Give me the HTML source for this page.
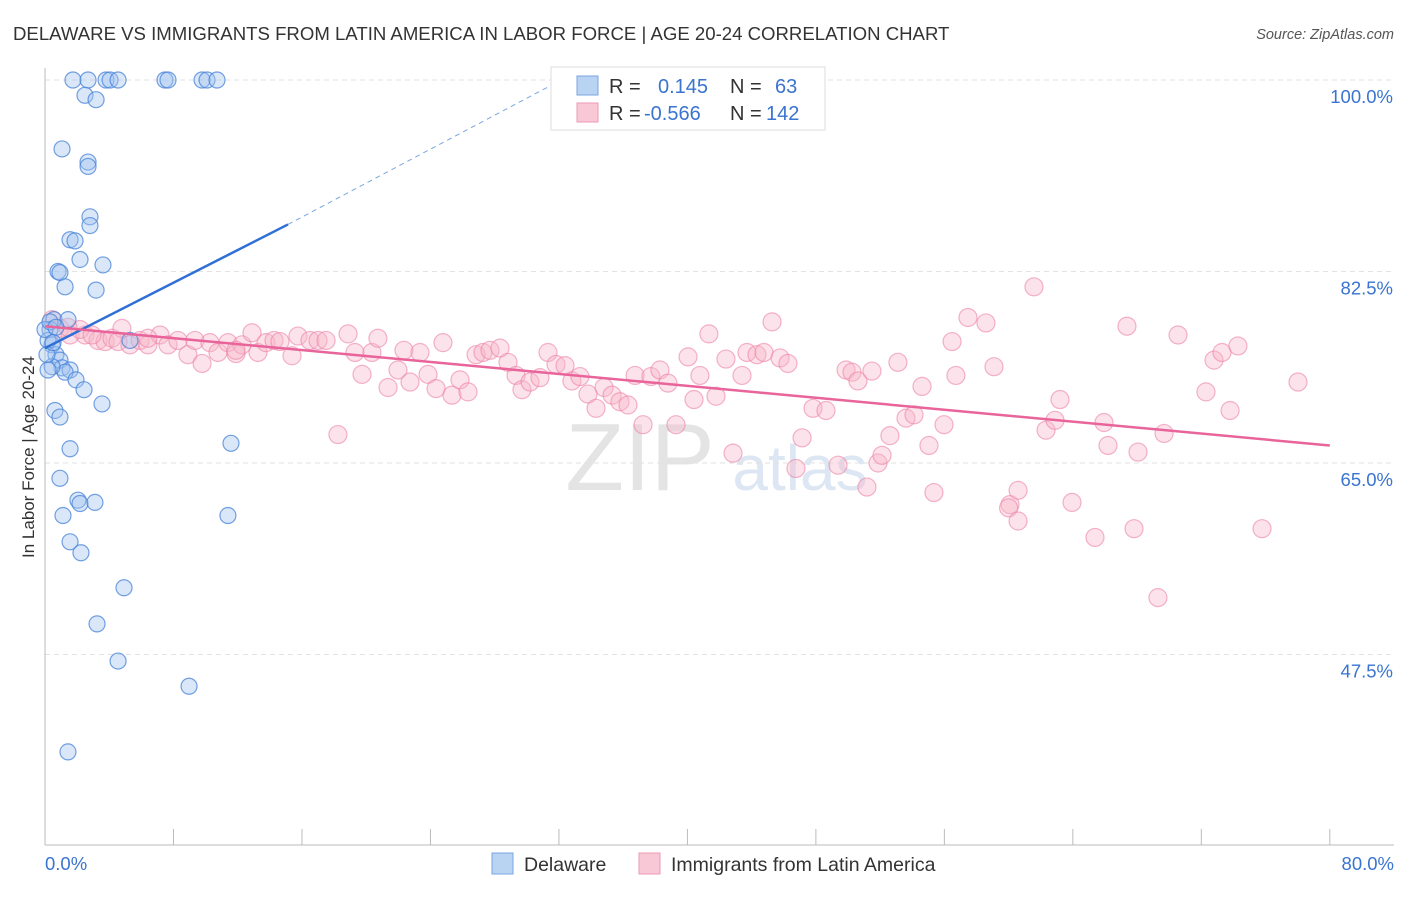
<!DOCTYPE html>
<html><head><meta charset="utf-8"><style>
body{margin:0;background:#fff;font-family:"Liberation Sans",sans-serif;}
svg text{font-family:"Liberation Sans",sans-serif;}
</style></head><body>
<svg id="chart" width="1406" height="892">
<text x="13" y="40" font-size="18.6" fill="#333">DELAWARE VS IMMIGRANTS FROM LATIN AMERICA IN LABOR FORCE | AGE 20-24 CORRELATION CHART</text>
<text x="1394" y="39" font-size="14.5" fill="#555" text-anchor="end" font-style="italic">Source: ZipAtlas.com</text>
<text x="640" y="490" font-size="96" fill="#e4e4e4" font-family="Liberation Serif" text-anchor="middle">ZIP</text>
<text x="800" y="490" font-size="64" fill="#dde6f3" text-anchor="middle">atlas</text>
<g id="grid"></g><g id="axes"></g><g id="pts"></g><g id="lines"></g>
<text transform="translate(34,457) rotate(-90)" font-size="17" fill="#333" text-anchor="middle">In Labor Force | Age 20-24</text>
<g>
<rect x="551" y="67" width="274" height="63" fill="#fff" stroke="#ddd"/>
<rect x="577" y="76" width="21" height="19" fill="#b9d3f3" stroke="#7aa6e0"/>
<rect x="577" y="103" width="21" height="19" fill="#f9c8d6" stroke="#ef9ab5"/>
<text x="609" y="93" font-size="20" fill="#333">R =</text><text x="658" y="93" font-size="20" fill="#3a74d0">0.145</text>
<text x="730" y="93" font-size="20" fill="#333">N =</text><text x="775" y="93" font-size="20" fill="#3a74d0">63</text>
<text x="609" y="120" font-size="20" fill="#333">R =</text><text x="644" y="120" font-size="20" fill="#3a74d0">-0.566</text>
<text x="730" y="120" font-size="20" fill="#333">N =</text><text x="766" y="120" font-size="20" fill="#3a74d0">142</text>
</g>
<g>
<rect x="492" y="853" width="21" height="21" fill="#b9d3f3" stroke="#7aa6e0"/>
<text x="524" y="871" font-size="19.5" fill="#333">Delaware</text>
<rect x="639" y="853" width="21" height="21" fill="#f9c8d6" stroke="#ef9ab5"/>
<text x="671" y="871" font-size="19.5" fill="#333">Immigrants from Latin America</text>
</g>
</svg>
<script>
const blueX=[1.74,2.68,3.80,4.05,4.55,7.47,7.66,9.78,10.09,10.71,2.49,3.18,1.06,2.68,2.68,2.80,2.80,1.56,1.87,2.18,3.61,0.81,0.93,1.25,3.18,0.56,1.43,0.31,0.44,0.68,0.93,1.06,1.56,1.25,1.93,2.43,0.44,3.55,0.62,0.93,1.56,11.58,0.93,2.05,2.18,3.11,1.12,11.39,1.56,2.24,4.92,3.24,4.55,8.97,1.43,5.29,0.19,0,0.31,0.12,0.68,0.5,0.19];
const blueY=[100,100,100,100,100,100,100,100,100,100,98.6,98.2,93.7,92.5,92.1,87.5,86.7,85.4,85.3,83.6,83.1,82.5,82.4,81.1,80.8,78.1,78.1,77.2,75.8,74.9,74.4,73.7,73.5,73.3,72.6,71.7,73.8,70.4,69.8,69.2,66.3,66.8,63.6,61.6,61.3,61.4,60.2,60.2,57.8,56.8,53.6,50.3,46.9,44.6,38.6,76.2,76.2,77.2,77.9,74.9,77.4,76.0,73.5];
const pinkX=[0.44,0.93,1.56,2.49,3.30,3.74,4.17,4.79,4.55,5.29,5.92,6.41,7.16,7.66,8.28,8.90,9.34,9.78,10.27,10.77,11.39,11.89,12.27,12.89,13.26,13.76,14.26,14.63,15.38,15.75,16.50,17.00,17.50,18.24,18.87,19.30,19.74,20.36,20.73,21.36,21.98,22.35,22.73,23.35,23.85,24.35,24.78,25.34,25.84,26.34,26.84,27.27,27.71,28.33,28.83,29.33,29.70,30.20,30.82,31.32,31.82,32.38,32.81,33.31,33.81,34.31,34.81,35.31,35.80,36.30,36.74,37.24,37.73,38.29,38.79,39.29,40.04,40.41,40.78,41.34,41.78,42.40,42.84,43.40,43.71,44.33,44.77,45.27,45.77,46.26,46.76,47.14,47.82,48.63,49.38,49.88,50.25,50.62,51.18,51.49,51.87,52.12,52.61,53.11,53.61,54.11,54.61,55.04,55.35,55.98,56.48,56.72,57.47,58.59,59.09,60.09,60.0,60.59,60.59,61.58,62.33,62.89,63.20,63.95,65.38,65.94,66.19,67.37,67.81,68.06,69.30,69.68,70.55,72.29,72.79,73.29,73.79,74.28,75.78,78.02,2.18,2.93,1.43,6.41,11.89];
const pinkY=[78.1,77.3,76.7,76.7,76.2,76.1,76.4,77.3,76.1,75.8,76.2,75.8,76.7,75.8,76.2,74.9,76.2,74.1,76.0,75.1,76.0,75.0,75.8,76.9,75.1,76.0,76.2,76.1,74.8,76.6,76.2,76.2,76.2,67.6,76.8,75.1,73.1,75.1,76.4,71.9,73.5,75.3,72.4,75.1,73.1,71.8,76.0,71.2,72.6,71.5,74.9,75.1,75.3,75.5,74.2,73.0,71.7,72.4,72.8,75.1,74.0,73.9,72.5,72.9,71.3,70.0,71.9,71.2,70.6,70.3,73.0,68.5,72.9,73.5,72.3,68.5,74.7,70.8,73.0,76.8,71.1,74.5,65.9,73.0,75.1,74.9,75.1,77.9,74.6,74.1,64.5,67.3,70.0,69.8,64.8,73.5,73.3,72.5,62.8,73.4,65.0,65.7,67.5,74.2,69.1,69.4,72.0,66.6,62.3,68.5,76.1,73.0,78.3,77.8,73.8,61.2,60.9,59.7,62.5,81.1,68.0,68.9,70.8,61.4,58.2,68.7,66.6,77.5,59.0,66.0,52.7,67.7,76.7,71.5,74.4,75.1,69.8,75.7,59.0,72.4,77.2,76.7,77.4,76.4,75.3];
const yTicks=[100,82.5,65,47.5];
const yTickLabels=["100.0%","82.5%","65.0%","47.5%"];
const xTicks=[0,8,16,24,32,40,48,56,64,72,80];
const blueTrend=[[0,75.5],[15.13,86.8],[31.76,99.7]];
const pinkTrend=[[0,77.5],[80,66.6]];
const NS="http://www.w3.org/2000/svg";
const X=v=>45+v*16.06, Y=v=>80+(100-v)*10.943;
function mk(t,a,p){const e=document.createElementNS(NS,t);for(const k in a)e.setAttribute(k,a[k]);p.appendChild(e);return e;}
const grid=document.getElementById('grid'),axes=document.getElementById('axes'),pts=document.getElementById('pts'),lines=document.getElementById('lines');
yTicks.forEach((t,i)=>{
 const l=mk('line',{x1:45,x2:1394,y1:Y(t),y2:Y(t),stroke:'#e2e2e2','stroke-dasharray':'5,4'},grid);
 
 
 const tx=mk('text',{x:1393,y:Y(t)+23,'font-size':18.5,fill:'#3a74d0','text-anchor':'end'},axes);
 tx.textContent=yTickLabels[i];
 
 
});
mk('line',{x1:45,x2:45,y1:68,y2:845,stroke:'#bbb'},axes);
mk('line',{x1:45,x2:1394,y1:845,y2:845,stroke:'#bbb'},axes);
xTicks.forEach(t=>{
 const l=mk('line',{x1:X(t),x2:X(t),y1:829,y2:845,stroke:'#bbb'},axes);
 
 
});
const x0=mk('text',{x:45,y:870,'font-size':18.5,fill:'#3a74d0'},axes);x0.textContent='0.0%';


const x1=mk('text',{x:1394,y:870,'font-size':18.5,fill:'#3a74d0','text-anchor':'end'},axes);x1.textContent='80.0%';


pinkX.forEach((v,i)=>{
 const c=mk('circle',{cx:X(v),cy:Y(pinkY[i]),r:9,fill:'rgba(247,182,202,0.4)',stroke:'rgba(236,130,165,0.6)','stroke-width':1.2},pts);
 
 
});
blueX.forEach((v,i)=>{
 const c=mk('circle',{cx:X(v),cy:Y(blueY[i]),r:8,fill:'rgba(160,195,240,0.4)',stroke:'rgba(70,130,215,0.75)','stroke-width':1.2},pts);
 
 
});
const b1=mk('line',{x1:X(blueTrend[0][0]),y1:Y(blueTrend[0][1]),x2:X(blueTrend[1][0]),y2:Y(blueTrend[1][1]),stroke:'#2f6fd6','stroke-width':2.5},lines);


const b2=mk('line',{x1:X(blueTrend[1][0]),y1:Y(blueTrend[1][1]),x2:X(blueTrend[2][0]),y2:Y(blueTrend[2][1]),stroke:'#7aa6e0','stroke-width':1,'stroke-dasharray':'5,4'},lines);


const p1=mk('line',{x1:X(pinkTrend[0][0]),y1:Y(pinkTrend[0][1]),x2:X(pinkTrend[1][0]),y2:Y(pinkTrend[1][1]),stroke:'#e8649a','stroke-width':2.5},lines);


</script>
</body></html>
